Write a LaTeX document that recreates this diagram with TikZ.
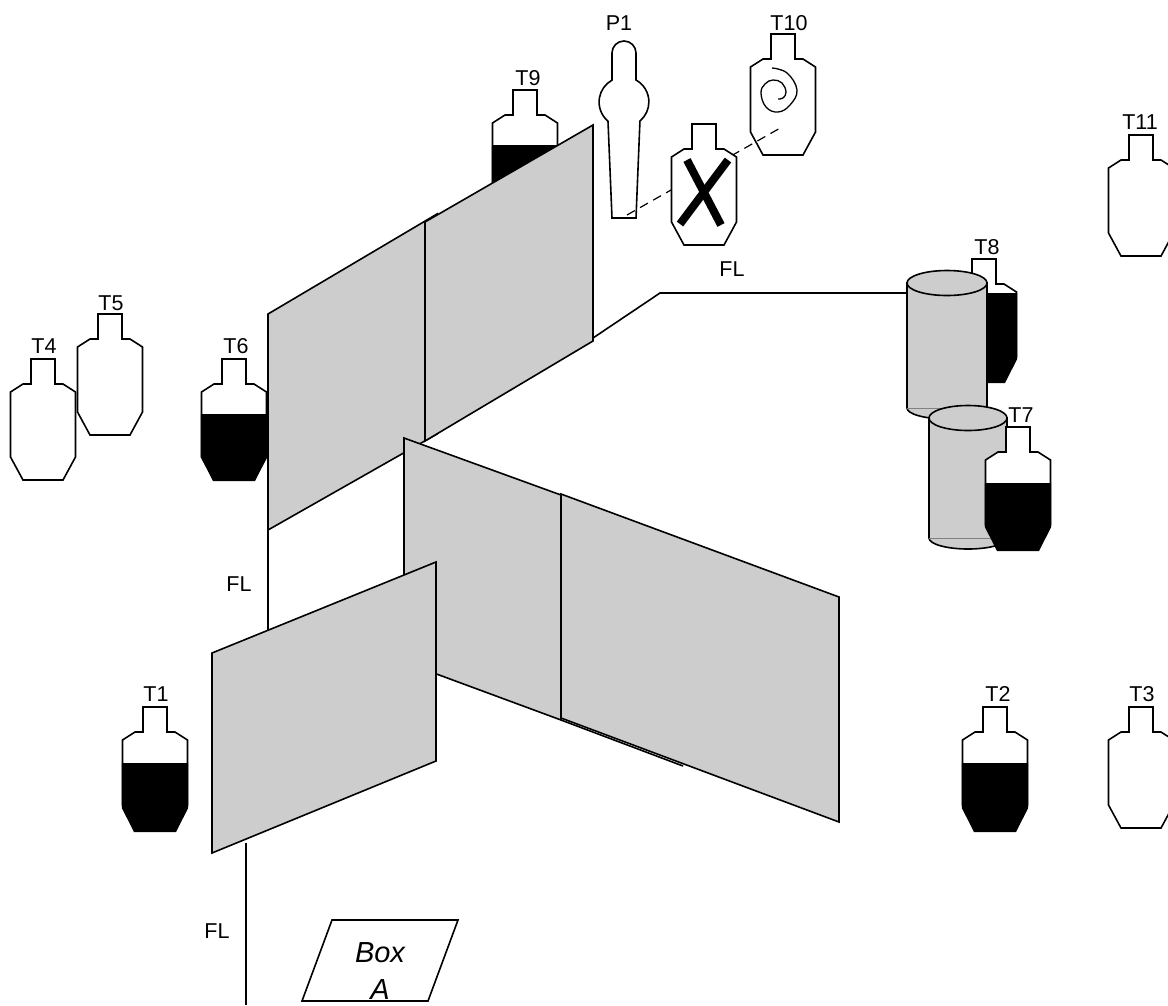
\documentclass[tikz,border=0pt]{standalone}
\usepackage{fontspec}
\setmainfont{Liberation Sans}
\definecolor{panelgrey}{HTML}{CDCDCD}
\tikzset{
  ink/.style={draw=black,line width=1.6pt,line join=miter},
  panel/.style={ink,fill=panelgrey},
  cylbody/.style={ink,fill=panelgrey},
  lbl/.style={inner sep=0pt,font=\fontsize{21.5}{25}\selectfont},
  boxlbl/.style={inner sep=0pt,align=center,font=\fontsize{29}{37}\selectfont\itshape},
  targetoutline/.style={ink,fill=white},
  sightline/.style={draw=black,line width=1.2pt,dash pattern=on 9pt off 6pt},
  xmark/.style={draw=black,line width=8pt}
}
% name, cx, top, black level (0 = none), black bottom
\newcommand{\tgt}[5]{%
  \begin{scope}[shift={(#2,#3)}]
    \draw[targetoutline] (-12,0) -- (12,0) -- (12,25) -- (20,25) -- (32.5,33) -- (32.5,98) -- (20,121) -- (-20,121) -- (-32.5,98) -- (-32.5,33) -- (-20,25) -- (-12,25) -- cycle;
    \ifnum#4>0
      \fill[black] (-33.2,#4) -- (33.2,#4) -- (33.2,{#5-24}) -- (21,#5) -- (-21,#5) -- (-33.2,{#5-24}) -- cycle;
    \fi
    \coordinate (#1) at (0,0);
  \end{scope}}
\newcommand{\cyl}[5]{% name, left, right, top centre y, bottom y
  \draw[cylbody] (#2,#4) -- (#2,#5) arc[start angle=180,end angle=0,x radius={(#3-#2)/2},y radius=11] -- (#3,#4) -- cycle;
  \draw[draw=gray,line width=0.7pt] (#2,#5) -- (#3,#5);
  \draw[cylbody] ({(#2+#3)/2},#4) ellipse[x radius={(#3-#2)/2},y radius=12.5];
  \coordinate (#1) at (#2,#4);}
\begin{document}
\begin{tikzpicture}[x=1pt,y=-1pt]
\useasboundingbox (0,0) rectangle (1168,1005);
% background targets
\tgt{t4}{43}{359}{0}{0}
\tgt{t5}{110}{314}{0}{0}
\tgt{t6}{234}{359}{55}{122}
\tgt{t9}{525}{90}{55}{122}
\tgt{t11}{1141}{135}{0}{0}
\tgt{t1}{155}{707}{56}{125}
\tgt{t2}{995}{707}{56}{125}
\tgt{t3}{1141}{707}{0}{0}
\tgt{t10}{783}{34}{0}{0}
% spiral on T10
\draw[ink,line width=1.3pt] plot[smooth,tension=0.7] coordinates {(772,68) (787,73) (797,90) (790,105) (778,112) (766,107) (761,93) (765,84) (773,80) (782,83) (786,92) (783,98) (778,99)};
% P1
\draw[targetoutline] (612,80) -- (612,53) arc[start angle=180,end angle=360,radius=12] -- (636,80)
  arc[start angle=-61,end angle=50,radius=25] -- (636,218) -- (612,218) -- (608,121.2)
  arc[start angle=130,end angle=241,radius=25] -- cycle;
\coordinate (p1foot) at (627,215);
\coordinate (t10aim) at (782,127);
\draw[sightline] (p1foot) -- (t10aim);
% target with the X
\tgt{tx}{704}{124}{0}{0}
\draw[xmark] (687,160) -- (721,225);
\draw[xmark] (728,160) -- (680,224);
% labels of targets
\node[lbl] (lt4) at (44,346) {T4};
\node[lbl] (lt5) at (111,303) {T5};
\node[lbl] (lt6) at (236,346) {T6};
\node[lbl] (lt9) at (528,78) {T9};
\node[lbl] (lp1) at (619,23) {P1};
\node[lbl] (lt10) at (789,23) {T10};
\node[lbl] (lt11) at (1140,122) {T11};
\node[lbl] (lt1) at (156,694) {T1};
\node[lbl] (lt2) at (998,694) {T2};
\node[lbl] (lt3) at (1142,694) {T3};
% floor lines
\coordinate (a1) at (593,338);
\coordinate (a2) at (660,293);
\coordinate (a3) at (907,293);
\draw[ink] (a1) -- (a2) -- (a3);
\coordinate (b1) at (268,530);
\coordinate (b2) at (268,632);
\draw[ink] (b1) -- (b2);
\coordinate (c1) at (246,843);
\coordinate (c2) at (246,1005);
\draw[ink] (c1) -- (c2);
% upper panels
\draw[panel] (268,314) -- (437,214) -- (437,434) -- (268,530) -- cycle;
\draw[panel] (425,222) -- (593,125) -- (593,341) -- (425,441) -- cycle;
% lower panels
\draw[panel] (404,438) -- (561,495) -- (561,720) -- (404,662) -- cycle;
\draw[ink] (561,720) -- (683,766);
\draw[panel] (561,494) -- (839,597) -- (839,822) -- (561,718) -- cycle;
% front panel
\draw[panel] (212,653) -- (436,562) -- (436,761) -- (212,853) -- cycle;
% cylinders and their targets
\tgt{t8}{984}{259}{34}{124}
\cyl{cyla}{907}{987}{283}{408}
\cyl{cylb}{929}{1007}{418}{538}
\tgt{t7}{1018}{427}{56}{124}
\node[lbl] (lt8) at (987,247) {T8};
\node[lbl] (lt7) at (1021,415) {T7};
% FL labels
\node[lbl] (fla) at (732,269) {FL};
\node[lbl] (flb) at (239,584) {FL};
\node[lbl] (flc) at (217,931) {FL};
% Box A
\draw[ink] (332,920) -- (458,920) -- (428,1001) -- (302,1001) -- cycle;
\node[boxlbl] (boxa) at (380,971) {Box\\A};
\end{tikzpicture}
\end{document}
